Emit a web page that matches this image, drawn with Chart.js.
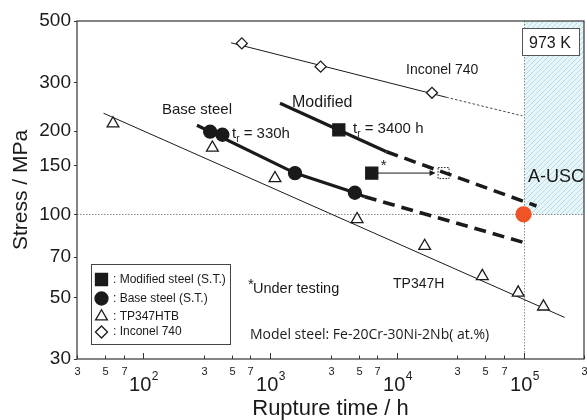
<!DOCTYPE html>
<html>
<head>
<meta charset="utf-8">
<title>Creep rupture at 973 K</title>
<script src="https://cdn.jsdelivr.net/npm/chart.js@4.4.1/dist/chart.umd.min.js"></script>
<style>
    html, body { margin: 0; padding: 0; background: #fff; }
</style>
</head>
<body>
<canvas id="creep-chart" width="587" height="420"></canvas>
<script>
// Rupture time (h) vs stress (MPa)

const xTicks = [30, 50, 70, 100, 300, 500, 700, 1000, 3000, 5000, 7000, 10000, 30000, 50000, 70000, 100000, 300000];
const yTicks = [30, 50, 70, 100, 150, 200, 300, 500];

// measured points
const modifiedTime = [3490];
const modifiedStress = [202];
const testingTime = [6350];        // under testing
const testingStress = [141];
const testingGoalTime = [23400];   // dotted square
const testingGoalStress = [141];
const baseTime = [337, 421, 1574, 4670];
const baseStress = [199, 194, 141, 119.7];
const tp347Time = [57.7, 351, 1094, 4864, 16600, 47300, 90800, 143600];
const tp347Stress = [213, 174, 135, 96, 76.8, 59.8, 52.1, 46.4];
const inconelTime = [599, 2507, 18960];
const inconelStress = [415, 342, 275];
const auscTime = [100000];
const auscStress = [100];

// trend lines (solid part, then extrapolation)
const modFitTime = [1199, 8300];
const modFitStress = [252, 168.4];
const modExtTime = [8300, 126500];
const modExtStress = [168.4, 107.2];
const baseFitTime = [265, 1574, 4670, 5600];
const baseFitStress = [210, 141, 119.7, 115.8];
const baseExtTime = [5600, 106000];
const baseExtStress = [115.8, 78.6];
const tp347FitTime = [48.6, 211000];
const tp347FitStress = [232, 42.4];
const inconelFitTime = [493, 24600];
const inconelFitStress = [417, 265];
const inconelExtTime = [24600, 98000];
const inconelExtStress = [265, 227];

const FONT = '"Liberation Sans", Arial, sans-serif';
const INK = '#1a1a1a';

const pts = (xs, ys) => xs.map((x, i) => ({ x, y: ys[i] }));
const isPow10 = (v) => Math.abs(Math.log10(v) - Math.round(Math.log10(v))) < 1e-9;

function lineSet(xs, ys, width, dash) {
    return {
        data: pts(xs, ys),
        showLine: true,
        borderColor: INK,
        borderWidth: width,
        borderDash: dash || [],
        pointRadius: 0,
        tension: 0,
        order: 3
    };
}

function markerSet(xs, ys, style, radius, fill, border) {
    return {
        data: pts(xs, ys),
        showLine: false,
        pointStyle: style,
        pointRadius: radius,
        pointBackgroundColor: fill,
        pointBorderColor: border || INK,
        pointBorderWidth: 1.3,
        order: 1
    };
}

function makeHatch(ctx) {
    const c = document.createElement('canvas');
    c.width = 5; c.height = 5;
    const g = c.getContext('2d');
    g.fillStyle = '#e8f5f9';
    g.fillRect(0, 0, 5, 5);
    g.strokeStyle = '#b4dde7';
    g.lineWidth = 1;
    g.beginPath();
    g.moveTo(-1, 6); g.lineTo(6, -1);
    g.moveTo(-1, 1); g.lineTo(1, -1);
    g.moveTo(4, 6); g.lineTo(6, 4);
    g.stroke();
    return ctx.createPattern(c, 'repeat');
}

function seg(ctx, x1, y1, x2, y2) {
    ctx.beginPath();
    ctx.moveTo(x1, y1);
    ctx.lineTo(x2, y2);
    ctx.stroke();
}

function label(ctx, str, x, y, size, family) {
    ctx.font = `${size}px ${family || FONT}`;
    ctx.fillText(str, x, y);
    return ctx.measureText(str).width;
}

// "t_r = ..." with subscript r
function trLabel(ctx, rest, x, y) {
    let w = label(ctx, 't', x, y, 15);
    w += label(ctx, 'r', x + w, y + 4, 10);
    label(ctx, rest, x + w, y, 15);
}

// A-USC region, dotted 100 MPa / 1e5 h guides
const regionPlugin = {
    id: 'auscRegion',
    beforeDatasetsDraw(chart) {
        const { ctx, chartArea: a, scales: { x, y } } = chart;
        const x0 = Math.round(x.getPixelForValue(auscTime[0])) + 0.5;
        const y0 = Math.round(y.getPixelForValue(auscStress[0])) + 0.5;
        ctx.save();
        ctx.fillStyle = makeHatch(ctx);
        ctx.fillRect(x0, a.top, a.right - x0, y0 - a.top);
        ctx.strokeStyle = '#8a8a8a';
        ctx.lineWidth = 1;
        ctx.setLineDash([1.5, 1.5]);
        seg(ctx, a.left, y0, a.right, y0);
        seg(ctx, x0, a.top, x0, a.bottom);
        ctx.restore();
    }
};

// frame, inward x ticks, decade labels, annotations and in-plot legend
const decorPlugin = {
    id: 'decor',
    afterDatasetsDraw(chart) {
        const { ctx, chartArea: a, scales: { x, y } } = chart;
        const drawPoint = Chart.helpers.drawPoint;
        ctx.save();

        // arrow from the running test to its expected position
        const ax = x.getPixelForValue(testingTime[0]);
        const bx = x.getPixelForValue(testingGoalTime[0]);
        const ay = y.getPixelForValue(testingStress[0]);
        ctx.strokeStyle = INK;
        ctx.fillStyle = INK;
        ctx.lineWidth = 1;
        seg(ctx, ax + 6, ay, bx - 12, ay);
        ctx.beginPath();
        ctx.moveTo(bx - 8, ay);
        ctx.lineTo(bx - 14, ay - 3);
        ctx.lineTo(bx - 14, ay + 3);
        ctx.closePath();
        ctx.fill();

        // dotted square
        const gy = y.getPixelForValue(testingGoalStress[0]);
        ctx.setLineDash([1.5, 1.5]);
        ctx.strokeRect(bx - 5.5, gy - 5.5, 11, 11);
        ctx.setLineDash([]);

        // text annotations
        ctx.fillStyle = INK;
        ctx.textBaseline = 'alphabetic';
        ctx.textAlign = 'left';
        label(ctx, 'Base steel', 162, 114, 15);
        label(ctx, 'Modified', 292, 107, 16);
        trLabel(ctx, ' = 330h', 232, 138);
        trLabel(ctx, ' = 3400 h', 353, 133);
        label(ctx, 'Inconel 740', 406, 74, 14);
        label(ctx, '*', ax + 9, 170, 15);
        label(ctx, 'TP347H', 393, 288, 14);
        label(ctx, '*', 248, 289, 15);
        label(ctx, 'Under testing', 253, 293, 14.5);
        label(ctx, 'Model steel: Fe-20Cr-30Ni-2Nb( at.%)', 250, 339, 14, '"Open Sans", sans-serif');
        label(ctx, 'A-USC', 528, 182, 18);

        // 973 K box
        ctx.fillStyle = '#fff';
        ctx.fillRect(522.5, 28.5, 57, 27);
        ctx.strokeStyle = '#555';
        ctx.strokeRect(522.5, 28.5, 57, 27);
        ctx.fillStyle = INK;
        label(ctx, '973 K', 529, 48, 16);

        // legend
        ctx.strokeStyle = '#444';
        ctx.strokeRect(91.5, 264.5, 139, 80);
        const rows = [
            ['rect', 8.5, INK, ': Modified steel (S.T.)', 279.5],
            ['circle', 6.5, INK, ': Base steel (S.T.)', 298.5],
            ['triangle', 6.8, '#fff', ': TP347HTB', 316.5],
            ['rectRot', 6, '#fff', ': Inconel 740', 332]
        ];
        ctx.textBaseline = 'middle';
        rows.forEach(([style, r, fill, text, ry]) => {
            ctx.fillStyle = fill;
            ctx.strokeStyle = INK;
            ctx.lineWidth = 1.3;
            drawPoint(ctx, { pointStyle: style, radius: r, borderWidth: 1.3, rotation: 0 }, 101.5, ry);
            ctx.fillStyle = INK;
            label(ctx, text, 113, ry, 12);
        });

        ctx.restore();
    },
    afterDraw(chart) {
        const { ctx, chartArea: a, scales: { x } } = chart;
        ctx.save();
        ctx.strokeStyle = '#333';
        ctx.lineWidth = 1.2;
        ctx.strokeRect(a.left, a.top, a.right - a.left, a.bottom - a.top);

        // x ticks point into the plot; 3-5-7 small, decades as 10^n
        ctx.lineWidth = 1;
        ctx.fillStyle = INK;
        ctx.textBaseline = 'alphabetic';
        x.ticks.forEach((t) => {
            const px = Math.round(x.getPixelForValue(t.value)) + 0.5;
            const major = isPow10(t.value);
            seg(ctx, px, a.bottom, px, a.bottom - (major ? 6 : 3.5));
            if (major) {
                const exp = String(Math.round(Math.log10(t.value)));
                ctx.font = `20px ${FONT}`;
                const w10 = ctx.measureText('10').width;
                ctx.font = `12px ${FONT}`;
                const wExp = ctx.measureText(exp).width;
                const left = px - (w10 + wExp) / 2;
                label(ctx, '10', left, 391, 20);
                label(ctx, exp, left + w10 + 0.5, 380, 12);
            } else {
                const digit = String(Math.round(t.value / 10 ** Math.floor(Math.log10(t.value) + 1e-9)));
                ctx.textAlign = 'center';
                label(ctx, digit, px, 375, 11);
                ctx.textAlign = 'left';
            }
        });
        ctx.restore();
    }
};

const datasets = [
    markerSet(auscTime, auscStress, 'circle', 7.5, '#ef5326', '#ef5326'),
    markerSet(modifiedTime, modifiedStress, 'rect', 8.5, INK),
    markerSet(testingTime, testingStress, 'rect', 8.5, INK),
    markerSet(baseTime, baseStress, 'circle', 6.5, INK),
    markerSet(tp347Time, tp347Stress, 'triangle', 6.8, '#fff'),
    markerSet(inconelTime, inconelStress, 'rectRot', 5.5, '#fff'),
    lineSet(modFitTime, modFitStress, 3.2),
    lineSet(modExtTime, modExtStress, 3.5, [12, 7]),
    lineSet(baseFitTime, baseFitStress, 3.2),
    lineSet(baseExtTime, baseExtStress, 3.5, [12, 7]),
    lineSet(tp347FitTime, tp347FitStress, 1),
    lineSet(inconelFitTime, inconelFitStress, 1),
    lineSet(inconelExtTime, inconelExtStress, 0.8, [2.5, 2])
];
datasets[0].order = 0;

new Chart(document.getElementById('creep-chart'), {
    type: 'scatter',
    data: { datasets },
    options: {
        responsive: false,
        animation: false,
        layout: {
            autoPadding: false,   // big markers would otherwise shrink the plot
            padding: { top: 21, right: 3, left: 0, bottom: 0 }
        },
        plugins: {
            legend: { display: false },
            tooltip: { enabled: false }
        },
        scales: {
            x: {
                type: 'logarithmic',
                position: 'bottom',
                min: 30,
                max: 300000,
                afterBuildTicks: (scale) => { scale.ticks = xTicks.map((v) => ({ value: v })); },
                afterFit: (scale) => { scale.height = 61; },
                grid: { display: false, drawTicks: false },
                border: { display: false },
                ticks: { display: false },
                title: {
                    display: true,
                    text: 'Rupture time / h',
                    color: INK,
                    font: { family: FONT, size: 22, lineHeight: 1 },
                    padding: { top: 0, bottom: 0 }
                }
            },
            y: {
                type: 'logarithmic',
                min: 30,
                max: 500,
                afterBuildTicks: (scale) => { scale.ticks = yTicks.map((v) => ({ value: v })); },
                afterFit: (scale) => { scale.width = 77; },
                grid: { drawOnChartArea: false, tickLength: 3, color: '#333' },
                border: { display: false },
                ticks: {
                    padding: 3,
                    color: INK,
                    font: { family: FONT, size: 19 },
                    callback: (v) => String(v)
                },
                title: {
                    display: true,
                    text: 'Stress / MPa',
                    color: INK,
                    font: { family: FONT, size: 21, lineHeight: 1.2 },
                    padding: { top: 9, bottom: 0 }
                }
            }
        }
    },
    plugins: [regionPlugin, decorPlugin]
});
</script>
</body>
</html>
